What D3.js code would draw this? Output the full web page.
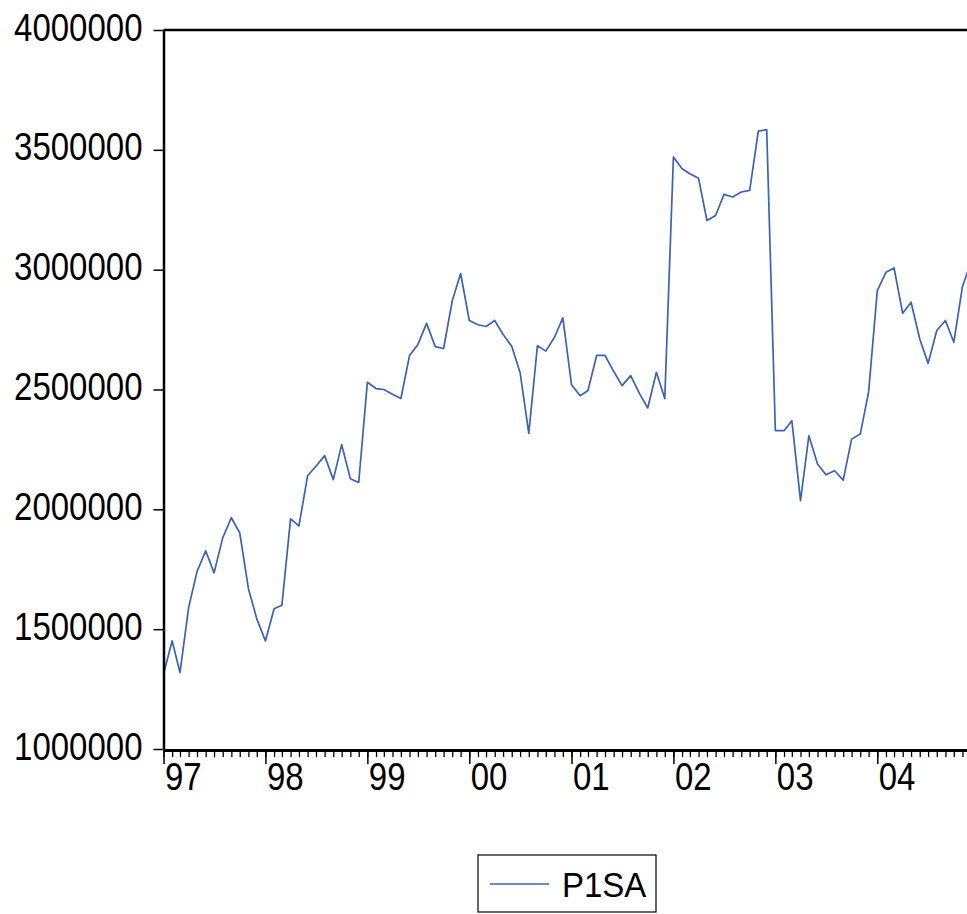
<!DOCTYPE html>
<html>
<head>
<meta charset="utf-8">
<script src="https://cdn.jsdelivr.net/npm/d3@7"></script>
<style>
  body { margin: 0; background: #fff; }
  svg { display: block; }
  text { font-family: "Liberation Sans", Arial, sans-serif; fill: #000; }
</style>
</head>
<body>
<div id="chart"></div>
<script>
// monthly series, Jan 1997 onwards
const seriesName = "P1SA";
const startDate = new Date(1997, 0, 1);
const endDate = new Date(2005, 0, 1);

const p1sa = [
  1313000, 1451000, 1319000, 1590000, 1740000, 1827000, 1735000, 1881000, 1965000, 1902000, 1670000, 1543000,
  1451000, 1585000, 1600000, 1960000, 1931000, 2140000, 2180000, 2224000, 2124000, 2270000, 2128000, 2112000,
  2530000, 2504000, 2500000, 2480000, 2462000, 2642000, 2688000, 2776000, 2679000, 2671000, 2870000, 2984000,
  2788000, 2770000, 2763000, 2788000, 2730000, 2680000, 2570000, 2317000, 2683000, 2660000, 2718000, 2799000,
  2520000, 2474000, 2496000, 2642000, 2642000, 2576000, 2516000, 2558000, 2484000, 2423000, 2572000, 2462000,
  3470000, 3421000, 3400000, 3381000, 3205000, 3226000, 3314000, 3303000, 3324000, 3331000, 3578000, 3584000,
  2328000, 2328000, 2370000, 2036000, 2307000, 2189000, 2144000, 2161000, 2122000, 2293000, 2314000, 2490000,
  2913000, 2989000, 3007000, 2818000, 2864000, 2711000, 2609000, 2746000, 2788000, 2697000, 2930000, 3030000
];

const yTicks = [1000000, 1500000, 2000000, 2500000, 3000000, 3500000, 4000000];
const yearTicks = d3.timeYear.range(startDate, endDate);   // 97 .. 04

const width = 967, height = 914;
const plot = { left: 163.5, right: 979.5, top: 30, bottom: 749 };
const stretch = 1.18;

const data = p1sa.map((v, i) => ({ date: d3.timeMonth.offset(startDate, i), value: v }));

const svg = d3.select("#chart").append("svg")
  .attr("width", width)
  .attr("height", height);

const x = d3.scaleTime().domain([startDate, endDate]).range([plot.left, plot.right]);
const y = d3.scaleLinear().domain([1000000, 4000000]).range([plot.bottom, plot.top]);

// line
const line = d3.line()
  .x(d => x(d.date))
  .y(d => y(d.value));

svg.append("path")
  .datum(data)
  .attr("fill", "none")
  .attr("stroke", "#3a62b6")
  .attr("stroke-width", 1.7)
  .attr("stroke-linejoin", "round")
  .attr("d", line);

// top border
svg.append("line")
  .attr("x1", x.range()[0]).attr("x2", width)
  .attr("y1", y(4000000)).attr("y2", y(4000000))
  .attr("stroke", "#000").attr("stroke-width", 2.5);

// y axis
const yAxis = svg.append("g")
  .attr("transform", `translate(${plot.left},0)`)
  .call(d3.axisLeft(y).tickValues(yTicks).tickFormat(d3.format("d")).tickSize(10).tickSizeOuter(0).tickPadding(11));
yAxis.select(".domain").attr("stroke-width", 2.5);
yAxis.selectAll(".tick line").attr("stroke-width", 1.5);
yAxis.selectAll(".tick text")
  .attr("font-size", 33)
  .attr("y", 0)
  .attr("dy", 8.5)
  .attr("transform", `scale(1,${stretch})`);

// x axis: monthly minor ticks
const xMinor = svg.append("g")
  .attr("transform", `translate(0,${plot.bottom + 1})`)
  .call(d3.axisBottom(x).ticks(d3.timeMonth.every(1)).tickFormat("").tickSize(7).tickSizeOuter(0));
xMinor.selectAll(".tick line").attr("stroke-width", 1.3);
xMinor.select(".domain").remove();

// x axis: yearly major ticks with labels
const xAxis = svg.append("g")
  .attr("transform", `translate(0,${plot.bottom + 1})`)
  .call(d3.axisBottom(x).tickValues(yearTicks).tickFormat(d3.timeFormat("%y")).tickSize(14).tickSizeOuter(0));
xAxis.select(".domain").attr("stroke-width", 3);
xAxis.selectAll(".tick line").attr("stroke-width", 1.5);
xAxis.selectAll(".tick text")
  .attr("font-size", 33)
  .attr("text-anchor", "start")
  .attr("x", 1)
  .attr("y", 40 / stretch)
  .attr("dy", 0)
  .attr("transform", `scale(1,${stretch})`);

// legend
const legend = svg.append("g").attr("transform", "translate(478,855)");
legend.append("rect")
  .attr("x", 0).attr("y", 0)
  .attr("width", 178).attr("height", 57)
  .attr("fill", "#fff")
  .attr("stroke", "#000").attr("stroke-width", 1.2);
legend.append("line")
  .attr("x1", 12).attr("x2", 71)
  .attr("y1", 29).attr("y2", 29)
  .attr("stroke", "#3a62b6").attr("stroke-width", 1.7);
legend.append("g")
  .attr("transform", "translate(84,42)")
  .append("text")
  .attr("font-size", 33)
  .attr("transform", "scale(1,1.08)")
  .text(seriesName);
</script>
</body>
</html>
